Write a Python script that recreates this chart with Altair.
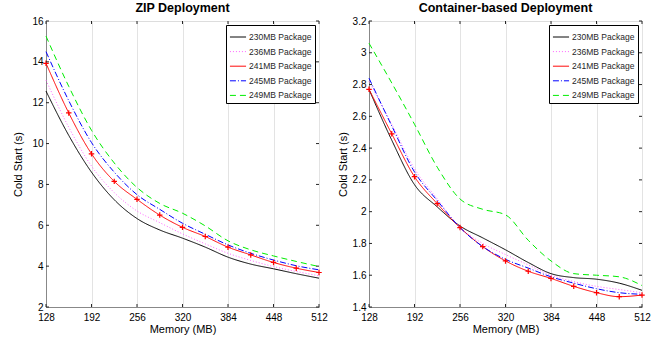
import altair as alt
import pandas as pd

# Memory settings (MB) at which cold start was measured
memory = [128, 160, 192, 224, 256, 288, 320, 352, 384, 416, 448, 480, 512]
packages = ["230MB Package", "236MB Package", "241MB Package", "245MB Package", "249MB Package"]

# ZIP deployment cold start (s)
zip_230 = [12.57, 10.4, 8.6, 7.25, 6.33, 5.77, 5.37, 4.93, 4.44, 4.1, 3.87, 3.63, 3.41]
zip_236 = [13.1, 10.8, 8.9, 7.6, 6.7, 6.13, 5.58, 5.09, 4.63, 4.28, 3.98, 3.74, 3.53]
zip_241 = [13.93, 11.5, 9.5, 8.15, 7.27, 6.5, 5.9, 5.45, 4.93, 4.55, 4.18, 3.9, 3.69]
zip_245 = [14.5, 12.1, 10.05, 8.6, 7.5, 6.78, 6.1, 5.56, 5.04, 4.63, 4.3, 4.02, 3.82]
zip_249 = [15.26, 12.8, 10.65, 9.05, 7.85, 7.07, 6.59, 5.97, 5.24, 4.8, 4.5, 4.23, 3.98]

# Container-based deployment cold start (s)
ctr_230 = [2.77, 2.45, 2.17, 2.03, 1.91, 1.835, 1.76, 1.68, 1.61, 1.585, 1.575, 1.55, 1.505]
ctr_236 = [2.82, 2.55, 2.27, 2.08, 1.90, 1.80, 1.73, 1.665, 1.60, 1.56, 1.53, 1.51, 1.49]
ctr_241 = [2.77, 2.49, 2.22, 2.05, 1.90, 1.78, 1.69, 1.625, 1.58, 1.53, 1.49, 1.465, 1.475]
ctr_245 = [2.84, 2.54, 2.25, 2.07, 1.90, 1.78, 1.70, 1.645, 1.59, 1.55, 1.515, 1.49, 1.48]
ctr_249 = [3.06, 2.81, 2.55, 2.28, 2.08, 2.015, 1.98, 1.82, 1.69, 1.61, 1.60, 1.59, 1.535]

x_ticks = [128, 192, 256, 320, 384, 448, 512]
zip_ticks = [2, 4, 6, 8, 10, 12, 14, 16]
ctr_ticks = [1.4, 1.6, 1.8, 2.0, 2.2, 2.4, 2.6, 2.8, 3.0, 3.2]

colors = ["#000000", "#ff66ff", "#ff0000", "#0000ff", "#00ee00"]
dashes = [[1, 0], [1, 2], [1, 0], [6, 2, 1, 2], [6, 4]]
widths = [1, 1, 2.2, 1, 1]

FONT = "Liberation Sans"
TXT = "#262626"
W, H = 273, 286


def long_table(series):
    rows = []
    for name, vals in zip(packages, series):
        for m, v in zip(memory, vals):
            rows.append({"memory": m, "cold": v, "package": name})
    return pd.DataFrame(rows)


def panel(series, title, ydom, yticks, title_pad):
    df = long_table(series)
    x_scale = alt.Scale(domain=[128, 512], nice=False, zero=False)
    y_scale = alt.Scale(domain=ydom, nice=False, zero=False)
    x_axis = alt.Axis(values=x_ticks, title="Memory (MB)", grid=True,
                      gridColor="#e3e3e3", gridWidth=1, ticks=False,
                      labelPadding=5, titlePadding=1, labelFlush=False,
                      labelOverlap=False, titleFontWeight="normal")
    y_axis = alt.Axis(values=yticks, title="Cold Start (s)", grid=False,
                      ticks=False, format="~g", labelPadding=3,
                      titlePadding=title_pad, labelFlush=False,
                      labelOverlap=False, titleFontWeight="normal")
    x_enc = alt.X("memory:Q", scale=x_scale, axis=x_axis)
    y_enc = alt.Y("cold:Q", scale=y_scale, axis=y_axis)

    legend = alt.Legend(title=None, orient="top-right", offset=4, padding=3,
                        strokeColor="#000000", fillColor="white",
                        symbolType="stroke", symbolSize=260, symbolStrokeWidth=1,
                        labelFontSize=8.5, labelFont=FONT, labelColor=TXT,
                        rowPadding=0.6, labelOffset=2)
    lines = alt.Chart(df).mark_line(interpolate="monotone").encode(
        x=x_enc,
        y=y_enc,
        color=alt.Color("package:N", scale=alt.Scale(domain=packages, range=colors),
                        legend=legend),
        strokeDash=alt.StrokeDash("package:N", scale=alt.Scale(domain=packages, range=dashes),
                                  legend=legend),
        strokeWidth=alt.StrokeWidth("package:N", scale=alt.Scale(domain=packages, range=widths),
                                    legend=None),
    )
    markers = alt.Chart(df).transform_filter(
        alt.datum.package == "241MB Package"
    ).mark_point(shape="M-1,0L1,0M0,-1L0,1", filled=False, color="#ff0000",
                 size=30, strokeWidth=1.2, opacity=1).encode(x=x_enc, y=y_enc)

    # inward tick marks on all four sides of the box
    yt = pd.DataFrame({"cold": yticks})
    xt = pd.DataFrame({"memory": x_ticks})
    tk = dict(color=TXT, strokeWidth=1)
    y_left = alt.Chart(yt).mark_rule(**tk).encode(
        y=y_enc, x=alt.value(0), x2=alt.value(3))
    y_right = alt.Chart(yt).mark_rule(**tk).encode(
        y=y_enc, x=alt.value(W - 3), x2=alt.value(W))
    x_bot = alt.Chart(xt).mark_rule(**tk).encode(
        x=x_enc, y=alt.value(H - 3), y2=alt.value(H))
    x_top = alt.Chart(xt).mark_rule(**tk).encode(
        x=x_enc, y=alt.value(0), y2=alt.value(3))

    return alt.layer(lines, markers, y_left, y_right, x_bot, x_top).properties(
        width=W, height=H,
        title=alt.TitleParams(title, fontSize=12.5, fontWeight="bold", font=FONT,
                              color="#000000", offset=2, anchor="middle"),
    )


left = panel([zip_230, zip_236, zip_241, zip_245, zip_249],
             "ZIP Deployment", [2, 16], zip_ticks, 8)
right = panel([ctr_230, ctr_236, ctr_241, ctr_245, ctr_249],
              "Container-based Deployment", [1.4, 3.2], ctr_ticks, 4)

chart = alt.hconcat(left, right, spacing=50, bounds="flush").resolve_legend(
    color="independent", strokeDash="independent"
).resolve_scale(
    color="independent", strokeDash="independent", strokeWidth="independent"
).properties(
    padding={"left": 12, "top": 1, "right": 5, "bottom": 5}
).configure_view(
    stroke="#000000", strokeWidth=1
).configure_axis(
    domainColor=TXT, domainWidth=1, labelFont=FONT, labelFontSize=11,
    labelColor="#000000", titleFont=FONT, titleFontSize=10, titleColor=TXT,
    titleFontWeight="normal"
).configure(background="white")

chart.save("out.html", embed_options={"renderer": "svg", "actions": False})
